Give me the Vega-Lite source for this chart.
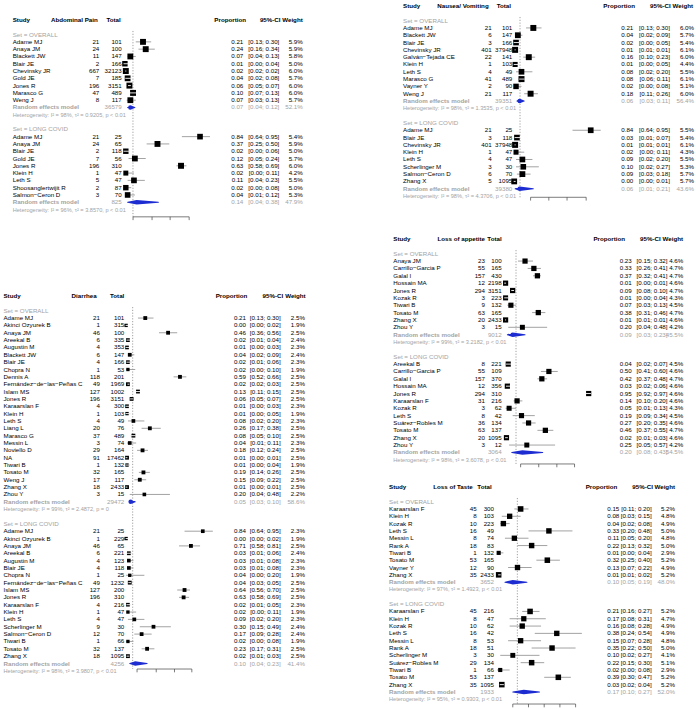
{
"$schema":"https://vega.github.io/schema/vega-lite/v6.json",
"padding":0,
"config":{"view":{"stroke":null},"axis":{"disable":true},"legend":{"disable":true},"text":{"font":"Liberation Sans","fontSize":6.2}},
"datasets":{
"A":[
{"i":0,"t":"h","s":"Study","hd":"Abdominal Pain"},
{"i":2,"t":"g","s":"Set = OVERALL"},
{"i":3,"t":"s","s":"Adame MJ","e":21,"n":101,"p":0.21,"lo":0.13,"hi":0.30,"w":0.059},
{"i":4,"t":"s","s":"Anaya JM","e":24,"n":100,"p":0.24,"lo":0.16,"hi":0.34,"w":0.059},
{"i":5,"t":"s","s":"Blackett JW","e":11,"n":147,"p":0.07,"lo":0.04,"hi":0.13,"w":0.058},
{"i":6,"t":"s","s":"Blair JE","e":2,"n":166,"p":0.01,"lo":0.00,"hi":0.04,"w":0.050},
{"i":7,"t":"s","s":"Chevinsky JR","e":667,"n":32123,"p":0.02,"lo":0.02,"hi":0.02,"w":0.060},
{"i":8,"t":"s","s":"Gold JE","e":7,"n":185,"p":0.04,"lo":0.02,"hi":0.08,"w":0.057},
{"i":9,"t":"s","s":"Jones R","e":196,"n":3151,"p":0.06,"lo":0.05,"hi":0.07,"w":0.060},
{"i":10,"t":"s","s":"Marasco G","e":47,"n":489,"p":0.10,"lo":0.07,"hi":0.13,"w":0.060},
{"i":11,"t":"s","s":"Weng J","e":8,"n":117,"p":0.07,"lo":0.03,"hi":0.13,"w":0.057},
{"i":12,"t":"r","s":"Random effects model","n":36579,"p":0.07,"lo":0.04,"hi":0.12,"w":0.521},
{"i":13,"t":"het","s":"Heterogeneity: I² = 98%, τ² = 0.9205, p < 0.01"},
{"i":15,"t":"g","s":"Set = LONG COVID"},
{"i":16,"t":"s","s":"Adame MJ","e":21,"n":25,"p":0.84,"lo":0.64,"hi":0.95,"w":0.054},
{"i":17,"t":"s","s":"Anaya JM","e":24,"n":65,"p":0.37,"lo":0.25,"hi":0.50,"w":0.059},
{"i":18,"t":"s","s":"Blair JE","e":2,"n":118,"p":0.02,"lo":0.00,"hi":0.06,"w":0.050},
{"i":19,"t":"s","s":"Gold JE","e":7,"n":56,"p":0.12,"lo":0.05,"hi":0.24,"w":0.057},
{"i":20,"t":"s","s":"Jones R","e":196,"n":310,"p":0.63,"lo":0.58,"hi":0.69,"w":0.060},
{"i":21,"t":"s","s":"Klein H","e":1,"n":47,"p":0.02,"lo":0.00,"hi":0.11,"w":0.042},
{"i":22,"t":"s","s":"Leth S","e":5,"n":47,"p":0.11,"lo":0.04,"hi":0.23,"w":0.055},
{"i":23,"t":"s","s":"Shoosanglertwijit R","e":2,"n":87,"p":0.02,"lo":0.00,"hi":0.08,"w":0.050},
{"i":24,"t":"s","s":"Salmon−Ceron D","e":3,"n":70,"p":0.04,"lo":0.01,"hi":0.12,"w":0.053},
{"i":25,"t":"r","s":"Random effects model","n":825,"p":0.14,"lo":0.04,"hi":0.38,"w":0.479},
{"i":26,"t":"het","s":"Heterogeneity: I² = 96%, τ² = 3.8570, p < 0.01"}
],
"D":[
{"i":0,"t":"h","s":"Study","hd":"Diarrhea"},
{"i":2,"t":"g","s":"Set = OVERALL"},
{"i":3,"t":"s","s":"Adame MJ","e":21,"n":101,"p":0.21,"lo":0.13,"hi":0.30,"w":0.025},
{"i":4,"t":"s","s":"Akinci Ozyurek B","e":1,"n":315,"p":0.00,"lo":0.00,"hi":0.02,"w":0.019},
{"i":5,"t":"s","s":"Anaya JM","e":46,"n":100,"p":0.46,"lo":0.36,"hi":0.56,"w":0.025},
{"i":6,"t":"s","s":"Areekal B","e":6,"n":335,"p":0.02,"lo":0.01,"hi":0.04,"w":0.024},
{"i":7,"t":"s","s":"Augustin M","e":4,"n":353,"p":0.01,"lo":0.00,"hi":0.03,"w":0.023},
{"i":8,"t":"s","s":"Blackett JW","e":6,"n":147,"p":0.04,"lo":0.02,"hi":0.09,"w":0.024},
{"i":9,"t":"s","s":"Blair JE","e":4,"n":166,"p":0.02,"lo":0.01,"hi":0.06,"w":0.023},
{"i":10,"t":"s","s":"Chopra N","e":1,"n":53,"p":0.02,"lo":0.00,"hi":0.10,"w":0.019},
{"i":11,"t":"s","s":"Dennis A","e":118,"n":201,"p":0.59,"lo":0.52,"hi":0.66,"w":0.025},
{"i":12,"t":"s","s":"Fernández−de−las−Peñas C","e":49,"n":1969,"p":0.02,"lo":0.02,"hi":0.03,"w":0.025},
{"i":13,"t":"s","s":"Islam MS","e":127,"n":1002,"p":0.13,"lo":0.11,"hi":0.15,"w":0.025},
{"i":14,"t":"s","s":"Jones R","e":196,"n":3151,"p":0.06,"lo":0.05,"hi":0.07,"w":0.025},
{"i":15,"t":"s","s":"Karaarslan F","e":4,"n":300,"p":0.01,"lo":0.00,"hi":0.03,"w":0.023},
{"i":16,"t":"s","s":"Klein H","e":1,"n":103,"p":0.01,"lo":0.00,"hi":0.05,"w":0.019},
{"i":17,"t":"s","s":"Leth S","e":4,"n":49,"p":0.08,"lo":0.02,"hi":0.20,"w":0.023},
{"i":18,"t":"s","s":"Liang L","e":20,"n":76,"p":0.26,"lo":0.17,"hi":0.38,"w":0.025},
{"i":19,"t":"s","s":"Marasco G","e":37,"n":489,"p":0.08,"lo":0.05,"hi":0.10,"w":0.025},
{"i":20,"t":"s","s":"Messin L","e":3,"n":74,"p":0.04,"lo":0.01,"hi":0.11,"w":0.023},
{"i":21,"t":"s","s":"Noviello D","e":29,"n":164,"p":0.18,"lo":0.12,"hi":0.24,"w":0.025},
{"i":22,"t":"s","s":"NA","e":91,"n":17462,"p":0.01,"lo":0.00,"hi":0.01,"w":0.025},
{"i":23,"t":"s","s":"Tiwari B","e":1,"n":132,"p":0.01,"lo":0.00,"hi":0.04,"w":0.019},
{"i":24,"t":"s","s":"Tosato M","e":32,"n":165,"p":0.19,"lo":0.14,"hi":0.26,"w":0.025},
{"i":25,"t":"s","s":"Weng J","e":17,"n":117,"p":0.15,"lo":0.09,"hi":0.22,"w":0.025},
{"i":26,"t":"s","s":"Zhang X","e":18,"n":2433,"p":0.01,"lo":0.00,"hi":0.01,"w":0.025},
{"i":27,"t":"s","s":"Zhou Y","e":3,"n":15,"p":0.20,"lo":0.04,"hi":0.48,"w":0.022},
{"i":28,"t":"r","s":"Random effects model","n":29472,"p":0.05,"lo":0.03,"hi":0.10,"w":0.586},
{"i":29,"t":"het","s":"Heterogeneity: I² = 99%, τ² = 2.4872, p = 0"},
{"i":31,"t":"g","s":"Set = LONG COVID"},
{"i":32,"t":"s","s":"Adame MJ","e":21,"n":25,"p":0.84,"lo":0.64,"hi":0.95,"w":0.023},
{"i":33,"t":"s","s":"Akinci Ozyurek B","e":1,"n":229,"p":0.00,"lo":0.00,"hi":0.02,"w":0.019},
{"i":34,"t":"s","s":"Anaya JM","e":46,"n":65,"p":0.71,"lo":0.58,"hi":0.81,"w":0.025},
{"i":35,"t":"s","s":"Areekal B","e":6,"n":221,"p":0.03,"lo":0.01,"hi":0.06,"w":0.024},
{"i":36,"t":"s","s":"Augustin M","e":4,"n":123,"p":0.03,"lo":0.01,"hi":0.08,"w":0.023},
{"i":37,"t":"s","s":"Blair JE","e":4,"n":118,"p":0.03,"lo":0.01,"hi":0.08,"w":0.023},
{"i":38,"t":"s","s":"Chopra N","e":1,"n":25,"p":0.04,"lo":0.00,"hi":0.20,"w":0.019},
{"i":39,"t":"s","s":"Fernández−de−las−Peñas C","e":49,"n":1232,"p":0.04,"lo":0.03,"hi":0.05,"w":0.025},
{"i":40,"t":"s","s":"Islam MS","e":127,"n":200,"p":0.64,"lo":0.56,"hi":0.70,"w":0.025},
{"i":41,"t":"s","s":"Jones R","e":196,"n":310,"p":0.63,"lo":0.58,"hi":0.69,"w":0.025},
{"i":42,"t":"s","s":"Karaarslan F","e":4,"n":216,"p":0.02,"lo":0.01,"hi":0.05,"w":0.023},
{"i":43,"t":"s","s":"Klein H","e":1,"n":47,"p":0.02,"lo":0.00,"hi":0.11,"w":0.019},
{"i":44,"t":"s","s":"Leth S","e":4,"n":47,"p":0.09,"lo":0.02,"hi":0.20,"w":0.023},
{"i":45,"t":"s","s":"Scherlinger M","e":9,"n":30,"p":0.30,"lo":0.15,"hi":0.49,"w":0.024},
{"i":46,"t":"s","s":"Salmon−Ceron D","e":12,"n":70,"p":0.17,"lo":0.09,"hi":0.28,"w":0.024},
{"i":47,"t":"s","s":"Tiwari B","e":1,"n":66,"p":0.02,"lo":0.00,"hi":0.08,"w":0.019},
{"i":48,"t":"s","s":"Tosato M","e":32,"n":137,"p":0.23,"lo":0.17,"hi":0.31,"w":0.025},
{"i":49,"t":"s","s":"Zhang X","e":18,"n":1095,"p":0.02,"lo":0.01,"hi":0.03,"w":0.025},
{"i":50,"t":"r","s":"Random effects model","n":4256,"p":0.10,"lo":0.04,"hi":0.23,"w":0.414},
{"i":51,"t":"het","s":"Heterogeneity: I² = 98%, τ² = 3.9807, p < 0.01"}
],
"N":[
{"i":0,"t":"h","s":"Study","hd":"Nausea/ Vomiting"},
{"i":2,"t":"g","s":"Set = OVERALL"},
{"i":3,"t":"s","s":"Adame MJ","e":21,"n":101,"p":0.21,"lo":0.13,"hi":0.30,"w":0.060},
{"i":4,"t":"s","s":"Blackett JW","e":6,"n":147,"p":0.04,"lo":0.02,"hi":0.09,"w":0.057},
{"i":5,"t":"s","s":"Blair JE","e":3,"n":166,"p":0.02,"lo":0.00,"hi":0.05,"w":0.054},
{"i":6,"t":"s","s":"Chevinsky JR","e":401,"n":37948,"p":0.01,"lo":0.01,"hi":0.01,"w":0.061},
{"i":7,"t":"s","s":"Galván−Tejada CE","e":22,"n":141,"p":0.16,"lo":0.10,"hi":0.23,"w":0.060},
{"i":8,"t":"s","s":"Klein H","e":1,"n":103,"p":0.01,"lo":0.00,"hi":0.05,"w":0.044},
{"i":9,"t":"s","s":"Leth S","e":4,"n":49,"p":0.08,"lo":0.02,"hi":0.20,"w":0.055},
{"i":10,"t":"s","s":"Marasco G","e":41,"n":489,"p":0.08,"lo":0.06,"hi":0.11,"w":0.061},
{"i":11,"t":"s","s":"Vayner Y","e":2,"n":90,"p":0.02,"lo":0.00,"hi":0.08,"w":0.051},
{"i":12,"t":"s","s":"Weng J","e":21,"n":117,"p":0.18,"lo":0.11,"hi":0.26,"w":0.060},
{"i":13,"t":"r","s":"Random effects model","n":39351,"p":0.06,"lo":0.03,"hi":0.11,"w":0.564},
{"i":14,"t":"het","s":"Heterogeneity: I² = 98%, τ² = 1.3535, p < 0.01"},
{"i":16,"t":"g","s":"Set = LONG COVID"},
{"i":17,"t":"s","s":"Adame MJ","e":21,"n":25,"p":0.84,"lo":0.64,"hi":0.95,"w":0.055},
{"i":18,"t":"s","s":"Blair JE","e":3,"n":118,"p":0.03,"lo":0.01,"hi":0.07,"w":0.054},
{"i":19,"t":"s","s":"Chevinsky JR","e":401,"n":37948,"p":0.01,"lo":0.01,"hi":0.01,"w":0.061},
{"i":20,"t":"s","s":"Klein H","e":1,"n":47,"p":0.02,"lo":0.00,"hi":0.11,"w":0.043},
{"i":21,"t":"s","s":"Leth S","e":4,"n":47,"p":0.09,"lo":0.02,"hi":0.20,"w":0.055},
{"i":22,"t":"s","s":"Scherlinger M","e":3,"n":30,"p":0.10,"lo":0.02,"hi":0.27,"w":0.053},
{"i":23,"t":"s","s":"Salmon−Ceron D","e":6,"n":70,"p":0.09,"lo":0.03,"hi":0.18,"w":0.057},
{"i":24,"t":"s","s":"Zhang X","e":5,"n":1095,"p":0.00,"lo":0.00,"hi":0.01,"w":0.057},
{"i":25,"t":"r","s":"Random effects model","n":39380,"p":0.06,"lo":0.01,"hi":0.21,"w":0.436},
{"i":26,"t":"het","s":"Heterogeneity: I² = 98%, τ² = 4.3706, p < 0.01"}
],
"L":[
{"i":0,"t":"h","s":"Study","hd":"Loss of appetite"},
{"i":2,"t":"g","s":"Set = OVERALL"},
{"i":3,"t":"s","s":"Anaya JM","e":23,"n":100,"p":0.23,"lo":0.15,"hi":0.32,"w":0.046},
{"i":4,"t":"s","s":"Carrillo−Garcia P","e":55,"n":165,"p":0.33,"lo":0.26,"hi":0.41,"w":0.047},
{"i":5,"t":"s","s":"Galal I","e":157,"n":430,"p":0.37,"lo":0.32,"hi":0.41,"w":0.047},
{"i":6,"t":"s","s":"Hossain MA","e":12,"n":2198,"p":0.01,"lo":0.00,"hi":0.01,"w":0.046},
{"i":7,"t":"s","s":"Jones R","e":294,"n":3151,"p":0.09,"lo":0.08,"hi":0.10,"w":0.047},
{"i":8,"t":"s","s":"Kozak R","e":3,"n":223,"p":0.01,"lo":0.00,"hi":0.04,"w":0.043},
{"i":9,"t":"s","s":"Tiwari B","e":9,"n":132,"p":0.07,"lo":0.03,"hi":0.13,"w":0.045},
{"i":10,"t":"s","s":"Tosato M","e":63,"n":165,"p":0.38,"lo":0.31,"hi":0.46,"w":0.047},
{"i":11,"t":"s","s":"Zhang X","e":20,"n":2433,"p":0.01,"lo":0.01,"hi":0.01,"w":0.046},
{"i":12,"t":"s","s":"Zhou Y","e":3,"n":15,"p":0.20,"lo":0.04,"hi":0.48,"w":0.042},
{"i":13,"t":"r","s":"Random effects model","n":9012,"p":0.09,"lo":0.03,"hi":0.23,"w":0.455},
{"i":14,"t":"het","s":"Heterogeneity: I² = 99%, τ² = 3.2182, p < 0.01"},
{"i":16,"t":"g","s":"Set = LONG COVID"},
{"i":17,"t":"s","s":"Areekal B","e":8,"n":221,"p":0.04,"lo":0.02,"hi":0.07,"w":0.045},
{"i":18,"t":"s","s":"Carrillo−Garcia P","e":55,"n":109,"p":0.50,"lo":0.41,"hi":0.60,"w":0.046},
{"i":19,"t":"s","s":"Galal I","e":157,"n":370,"p":0.42,"lo":0.37,"hi":0.48,"w":0.047},
{"i":20,"t":"s","s":"Hossain MA","e":12,"n":356,"p":0.03,"lo":0.02,"hi":0.06,"w":0.046},
{"i":21,"t":"s","s":"Jones R","e":294,"n":310,"p":0.95,"lo":0.92,"hi":0.97,"w":0.046},
{"i":22,"t":"s","s":"Karaarslan F","e":31,"n":216,"p":0.14,"lo":0.10,"hi":0.20,"w":0.046},
{"i":23,"t":"s","s":"Kozak R","e":3,"n":62,"p":0.05,"lo":0.01,"hi":0.13,"w":0.043},
{"i":24,"t":"s","s":"Leth S","e":8,"n":42,"p":0.19,"lo":0.09,"hi":0.34,"w":0.045},
{"i":25,"t":"s","s":"Suárez−Robles M","e":36,"n":134,"p":0.27,"lo":0.20,"hi":0.35,"w":0.046},
{"i":26,"t":"s","s":"Tosato M","e":63,"n":137,"p":0.46,"lo":0.37,"hi":0.55,"w":0.047},
{"i":27,"t":"s","s":"Zhang X","e":20,"n":1095,"p":0.02,"lo":0.01,"hi":0.03,"w":0.046},
{"i":28,"t":"s","s":"Zhou Y","e":3,"n":12,"p":0.25,"lo":0.05,"hi":0.57,"w":0.042},
{"i":29,"t":"r","s":"Random effects model","n":3064,"p":0.20,"lo":0.08,"hi":0.43,"w":0.545},
{"i":30,"t":"het","s":"Heterogeneity: I² = 98%, τ² = 3.6078, p < 0.01"}
],
"T":[
{"i":0,"t":"h","s":"Study","hd":"Loss of Taste"},
{"i":2,"t":"g","s":"Set = OVERALL"},
{"i":3,"t":"s","s":"Karaarslan F","e":45,"n":300,"p":0.15,"lo":0.11,"hi":0.20,"w":0.052},
{"i":4,"t":"s","s":"Klein H","e":8,"n":103,"p":0.08,"lo":0.03,"hi":0.15,"w":0.048},
{"i":5,"t":"s","s":"Kozak R","e":10,"n":223,"p":0.04,"lo":0.02,"hi":0.08,"w":0.049},
{"i":6,"t":"s","s":"Leth S","e":16,"n":49,"p":0.33,"lo":0.20,"hi":0.48,"w":0.050},
{"i":7,"t":"s","s":"Messin L","e":8,"n":74,"p":0.11,"lo":0.05,"hi":0.20,"w":0.048},
{"i":8,"t":"s","s":"Rank A","e":18,"n":83,"p":0.22,"lo":0.13,"hi":0.32,"w":0.050},
{"i":9,"t":"s","s":"Tiwari B","e":1,"n":132,"p":0.01,"lo":0.00,"hi":0.04,"w":0.029},
{"i":10,"t":"s","s":"Tosato M","e":53,"n":165,"p":0.32,"lo":0.25,"hi":0.40,"w":0.052},
{"i":11,"t":"s","s":"Vayner Y","e":12,"n":90,"p":0.13,"lo":0.07,"hi":0.22,"w":0.049},
{"i":12,"t":"s","s":"Zhang X","e":35,"n":2433,"p":0.01,"lo":0.01,"hi":0.02,"w":0.052},
{"i":13,"t":"r","s":"Random effects model","n":3652,"p":0.10,"lo":0.05,"hi":0.19,"w":0.480},
{"i":14,"t":"het","s":"Heterogeneity: I² = 97%, τ² = 1.4923, p < 0.01"},
{"i":16,"t":"g","s":"Set = LONG COVID"},
{"i":17,"t":"s","s":"Karaarslan F","e":45,"n":216,"p":0.21,"lo":0.16,"hi":0.27,"w":0.052},
{"i":18,"t":"s","s":"Klein H","e":8,"n":47,"p":0.17,"lo":0.08,"hi":0.31,"w":0.047},
{"i":19,"t":"s","s":"Kozak R","e":10,"n":62,"p":0.16,"lo":0.08,"hi":0.28,"w":0.049},
{"i":20,"t":"s","s":"Leth S","e":16,"n":42,"p":0.38,"lo":0.24,"hi":0.54,"w":0.049},
{"i":21,"t":"s","s":"Messin L","e":8,"n":53,"p":0.15,"lo":0.07,"hi":0.28,"w":0.048},
{"i":22,"t":"s","s":"Rank A","e":18,"n":51,"p":0.35,"lo":0.22,"hi":0.50,"w":0.050},
{"i":23,"t":"s","s":"Scherlinger M","e":3,"n":30,"p":0.10,"lo":0.02,"hi":0.27,"w":0.041},
{"i":24,"t":"s","s":"Suárez−Robles M","e":29,"n":134,"p":0.22,"lo":0.15,"hi":0.30,"w":0.051},
{"i":25,"t":"s","s":"Tiwari B","e":1,"n":66,"p":0.02,"lo":0.00,"hi":0.08,"w":0.029},
{"i":26,"t":"s","s":"Tosato M","e":53,"n":137,"p":0.39,"lo":0.30,"hi":0.47,"w":0.052},
{"i":27,"t":"s","s":"Zhang X","e":35,"n":1095,"p":0.03,"lo":0.02,"hi":0.04,"w":0.052},
{"i":28,"t":"r","s":"Random effects model","n":1933,"p":0.17,"lo":0.10,"hi":0.27,"w":0.520},
{"i":29,"t":"het","s":"Heterogeneity: I² = 95%, τ² = 0.9303, p < 0.01"}
]
},
"spacing":5,
"hconcat":[
{"spacing":0,"bounds":"flush","vconcat":[
{"width":345,"height":240,"data":{"name":"A"},
"layer":[
{"transform":[{"filter":"datum.t=='s'"}],"mark":{"type":"rule","color":"#8c8c8c","strokeWidth":0.8},"encoding":{"x":{"field":"lo","type":"quantitative","scale":{"domain":[-1.3702,2.442],"nice":false,"zero":false}},"x2":{"field":"hi"},"y":{"field":"i","type":"quantitative","scale":{"domain":[-2.743,30.178],"reverse":true,"nice":false,"zero":false}}}},
{"transform":[{"filter":"datum.t=='h'"}],"mark":{"type":"rule","color":"#a0a0a0","strokeDash":[1.2,1.6],"strokeWidth":1},"encoding":{"x":{"datum":0.099},"y":{"datum":1.5},"y2":{"datum":27}}},
{"transform":[{"filter":"datum.t=='h'"}],"mark":{"type":"rule","color":"#444444","strokeWidth":0.7},"encoding":{"x":{"datum":0.1},"x2":{"datum":0.72},"y":{"datum":27}}},
{"transform":[{"filter":"datum.t=='h'"}],"mark":{"type":"rule","color":"#444444","strokeWidth":0.7},"encoding":{"x":{"datum":0.1},"y":{"datum":27},"y2":{"datum":27.45}}},
{"transform":[{"filter":"datum.t=='h'"}],"mark":{"type":"rule","color":"#444444","strokeWidth":0.7},"encoding":{"x":{"datum":0.31},"y":{"datum":27},"y2":{"datum":27.45}}},
{"transform":[{"filter":"datum.t=='h'"}],"mark":{"type":"rule","color":"#444444","strokeWidth":0.7},"encoding":{"x":{"datum":0.51},"y":{"datum":27},"y2":{"datum":27.45}}},
{"transform":[{"filter":"datum.t=='h'"}],"mark":{"type":"rule","color":"#444444","strokeWidth":0.7},"encoding":{"x":{"datum":0.72},"y":{"datum":27},"y2":{"datum":27.45}}},
{"transform":[{"filter":"datum.t=='s'"}],"mark":{"type":"square","color":"black","opacity":1},"encoding":{"x":{"field":"p","type":"quantitative"},"y":{"field":"i","type":"quantitative"},"size":{"field":"w","type":"quantitative","scale":{"domain":[0,0.06],"range":[0,36]},"legend":null}}},
{"transform":[{"filter":"datum.t=='s' && datum.hi-datum.lo<0.066"}],"mark":{"type":"rule","color":"white","strokeWidth":0.9,"strokeCap":"square"},"encoding":{"x":{"field":"lo","type":"quantitative"},"x2":{"field":"hi"},"y":{"field":"i","type":"quantitative"}}},
{"transform":[{"filter":"datum.t=='r'"},{"fold":["lo","p","hi"],"as":["k","xv"]}],"mark":{"type":"trail","color":"#1c2cd0"},"encoding":{"x":{"field":"xv","type":"quantitative"},"y":{"field":"i","type":"quantitative"},"detail":{"field":"i","type":"nominal"},"order":{"field":"xv","type":"quantitative"},"size":{"condition":{"test":"datum.k=='p'","value":4.5},"value":0}}},
{"transform":[{"filter":"datum.t=='s'||datum.t=='g'||datum.t=='het'"}],"mark":{"type":"text","align":"left","baseline":"middle"},"encoding":{"x":{"datum":-1.2298},"y":{"field":"i","type":"quantitative"},"text":{"field":"s"},"color":{"condition":{"test":"datum.t=='s'","value":"black"},"value":"#a3a3a3"},"size":{"condition":{"test":"datum.t=='het'","value":5.6},"value":6.2}}},
{"transform":[{"filter":"datum.t=='h'||datum.t=='r'"}],"mark":{"type":"text","align":"left","baseline":"middle","fontWeight":"bold"},"encoding":{"x":{"datum":-1.2298},"y":{"field":"i","type":"quantitative"},"text":{"field":"s"},"color":{"condition":{"test":"datum.t=='h'","value":"black"},"value":"#a3a3a3"}}},
{"transform":[{"filter":"datum.t=='s'"}],"mark":{"type":"text","align":"right","baseline":"middle"},"encoding":{"x":{"datum":-0.273},"y":{"field":"i","type":"quantitative"},"text":{"field":"e","type":"nominal"}}},
{"transform":[{"filter":"datum.t=='s'||datum.t=='r'"}],"mark":{"type":"text","align":"right","baseline":"middle"},"encoding":{"x":{"datum":-0.025},"y":{"field":"i","type":"quantitative"},"text":{"field":"n","type":"nominal"},"color":{"condition":{"test":"datum.t=='s'","value":"black"},"value":"#a3a3a3"}}},
{"transform":[{"filter":"datum.t=='s'||datum.t=='r'"}],"mark":{"type":"text","align":"right","baseline":"middle"},"encoding":{"x":{"datum":1.318},"y":{"field":"i","type":"quantitative"},"text":{"field":"p","type":"quantitative","format":".2f"},"color":{"condition":{"test":"datum.t=='s'","value":"black"},"value":"#a3a3a3"}}},
{"transform":[{"filter":"datum.t=='s'||datum.t=='r'"},{"calculate":"'['+format(datum.lo,'.2f')+'; '+format(datum.hi,'.2f')+']'","as":"ci"}],"mark":{"type":"text","align":"right","baseline":"middle"},"encoding":{"x":{"datum":1.716},"y":{"field":"i","type":"quantitative"},"text":{"field":"ci"},"color":{"condition":{"test":"datum.t=='s'","value":"black"},"value":"#a3a3a3"}}},
{"transform":[{"filter":"datum.t=='s'||datum.t=='r'"}],"mark":{"type":"text","align":"right","baseline":"middle"},"encoding":{"x":{"datum":1.975},"y":{"field":"i","type":"quantitative"},"text":{"field":"w","type":"quantitative","format":".1%"},"color":{"condition":{"test":"datum.t=='s'","value":"black"},"value":"#a3a3a3"}}},
{"transform":[{"filter":"datum.t=='h'"}],"mark":{"type":"text","align":"right","baseline":"middle","fontWeight":"bold"},"encoding":{"x":{"datum":-0.29},"y":{"field":"i","type":"quantitative"},"text":{"field":"hd"}}},
{"transform":[{"filter":"datum.t=='h'"}],"mark":{"type":"text","align":"right","baseline":"middle","fontWeight":"bold"},"encoding":{"x":{"datum":-0.036},"y":{"field":"i","type":"quantitative"},"text":{"value":"Total"}}},
{"transform":[{"filter":"datum.t=='h'"}],"mark":{"type":"text","align":"right","baseline":"middle","fontWeight":"bold"},"encoding":{"x":{"datum":1.348},"y":{"field":"i","type":"quantitative"},"text":{"value":"Proportion"}}},
{"transform":[{"filter":"datum.t=='h'"}],"mark":{"type":"text","align":"right","baseline":"middle","fontWeight":"bold"},"encoding":{"x":{"datum":1.73},"y":{"field":"i","type":"quantitative"},"text":{"value":"95%-CI"}}},
{"transform":[{"filter":"datum.t=='h'"}],"mark":{"type":"text","align":"right","baseline":"middle","fontWeight":"bold"},"encoding":{"x":{"datum":1.975},"y":{"field":"i","type":"quantitative"},"text":{"value":"Weight"}}}
]},
{"width":345,"height":469,"data":{"name":"D"},
"layer":[
{"transform":[{"filter":"datum.t=='s'"}],"mark":{"type":"rule","color":"#8c8c8c","strokeWidth":0.8},"encoding":{"x":{"field":"lo","type":"quantitative","scale":{"domain":[-1.3812,2.3976],"nice":false,"zero":false}},"x2":{"field":"hi"},"y":{"field":"i","type":"quantitative","scale":{"domain":[-7.619,56.19],"reverse":true,"nice":false,"zero":false}}}},
{"transform":[{"filter":"datum.t=='h'"}],"mark":{"type":"rule","color":"#a0a0a0","strokeDash":[1.2,1.6],"strokeWidth":1},"encoding":{"x":{"datum":0.072},"y":{"datum":1.5},"y2":{"datum":50.75}}},
{"transform":[{"filter":"datum.t=='h'"}],"mark":{"type":"rule","color":"#444444","strokeWidth":0.7},"encoding":{"x":{"datum":0.12},"x2":{"datum":0.72},"y":{"datum":50.75}}},
{"transform":[{"filter":"datum.t=='h'"}],"mark":{"type":"rule","color":"#444444","strokeWidth":0.7},"encoding":{"x":{"datum":0.12},"y":{"datum":50.75},"y2":{"datum":51.2}}},
{"transform":[{"filter":"datum.t=='h'"}],"mark":{"type":"rule","color":"#444444","strokeWidth":0.7},"encoding":{"x":{"datum":0.33},"y":{"datum":50.75},"y2":{"datum":51.2}}},
{"transform":[{"filter":"datum.t=='h'"}],"mark":{"type":"rule","color":"#444444","strokeWidth":0.7},"encoding":{"x":{"datum":0.53},"y":{"datum":50.75},"y2":{"datum":51.2}}},
{"transform":[{"filter":"datum.t=='h'"}],"mark":{"type":"rule","color":"#444444","strokeWidth":0.7},"encoding":{"x":{"datum":0.72},"y":{"datum":50.75},"y2":{"datum":51.2}}},
{"transform":[{"filter":"datum.t=='s'"}],"mark":{"type":"square","color":"black","opacity":1},"encoding":{"x":{"field":"p","type":"quantitative"},"y":{"field":"i","type":"quantitative"},"size":{"field":"w","type":"quantitative","scale":{"domain":[0,0.025],"range":[0,36]},"legend":null}}},
{"transform":[{"filter":"datum.t=='s' && datum.hi-datum.lo<0.065"}],"mark":{"type":"rule","color":"white","strokeWidth":0.9,"strokeCap":"square"},"encoding":{"x":{"field":"lo","type":"quantitative"},"x2":{"field":"hi"},"y":{"field":"i","type":"quantitative"}}},
{"transform":[{"filter":"datum.t=='r'"},{"fold":["lo","p","hi"],"as":["k","xv"]}],"mark":{"type":"trail","color":"#1c2cd0"},"encoding":{"x":{"field":"xv","type":"quantitative"},"y":{"field":"i","type":"quantitative"},"detail":{"field":"i","type":"nominal"},"order":{"field":"xv","type":"quantitative"},"size":{"condition":{"test":"datum.k=='p'","value":4.5},"value":0}}},
{"transform":[{"filter":"datum.t=='s'||datum.t=='g'||datum.t=='het'"}],"mark":{"type":"text","align":"left","baseline":"middle"},"encoding":{"x":{"datum":-1.343},"y":{"field":"i","type":"quantitative"},"text":{"field":"s"},"color":{"condition":{"test":"datum.t=='s'","value":"black"},"value":"#a3a3a3"},"size":{"condition":{"test":"datum.t=='het'","value":5.6},"value":6.2}}},
{"transform":[{"filter":"datum.t=='h'||datum.t=='r'"}],"mark":{"type":"text","align":"left","baseline":"middle","fontWeight":"bold"},"encoding":{"x":{"datum":-1.343},"y":{"field":"i","type":"quantitative"},"text":{"field":"s"},"color":{"condition":{"test":"datum.t=='h'","value":"black"},"value":"#a3a3a3"}}},
{"transform":[{"filter":"datum.t=='s'"}],"mark":{"type":"text","align":"right","baseline":"middle"},"encoding":{"x":{"datum":-0.286},"y":{"field":"i","type":"quantitative"},"text":{"field":"e","type":"nominal"}}},
{"transform":[{"filter":"datum.t=='s'||datum.t=='r'"}],"mark":{"type":"text","align":"right","baseline":"middle"},"encoding":{"x":{"datum":-0.0197},"y":{"field":"i","type":"quantitative"},"text":{"field":"n","type":"nominal"},"color":{"condition":{"test":"datum.t=='s'","value":"black"},"value":"#a3a3a3"}}},
{"transform":[{"filter":"datum.t=='s'||datum.t=='r'"}],"mark":{"type":"text","align":"right","baseline":"middle"},"encoding":{"x":{"datum":1.313},"y":{"field":"i","type":"quantitative"},"text":{"field":"p","type":"quantitative","format":".2f"},"color":{"condition":{"test":"datum.t=='s'","value":"black"},"value":"#a3a3a3"}}},
{"transform":[{"filter":"datum.t=='s'||datum.t=='r'"},{"calculate":"'['+format(datum.lo,'.2f')+'; '+format(datum.hi,'.2f')+']'","as":"ci"}],"mark":{"type":"text","align":"right","baseline":"middle"},"encoding":{"x":{"datum":1.693},"y":{"field":"i","type":"quantitative"},"text":{"field":"ci"},"color":{"condition":{"test":"datum.t=='s'","value":"black"},"value":"#a3a3a3"}}},
{"transform":[{"filter":"datum.t=='s'||datum.t=='r'"}],"mark":{"type":"text","align":"right","baseline":"middle"},"encoding":{"x":{"datum":1.959},"y":{"field":"i","type":"quantitative"},"text":{"field":"w","type":"quantitative","format":".1%"},"color":{"condition":{"test":"datum.t=='s'","value":"black"},"value":"#a3a3a3"}}},
{"transform":[{"filter":"datum.t=='h'"}],"mark":{"type":"text","align":"right","baseline":"middle","fontWeight":"bold"},"encoding":{"x":{"datum":-0.322},"y":{"field":"i","type":"quantitative"},"text":{"field":"hd"}}},
{"transform":[{"filter":"datum.t=='h'"}],"mark":{"type":"text","align":"right","baseline":"middle","fontWeight":"bold"},"encoding":{"x":{"datum":-0.0197},"y":{"field":"i","type":"quantitative"},"text":{"value":"Total"}}},
{"transform":[{"filter":"datum.t=='h'"}],"mark":{"type":"text","align":"right","baseline":"middle","fontWeight":"bold"},"encoding":{"x":{"datum":1.3275},"y":{"field":"i","type":"quantitative"},"text":{"value":"Proportion"}}},
{"transform":[{"filter":"datum.t=='h'"}],"mark":{"type":"text","align":"right","baseline":"middle","fontWeight":"bold"},"encoding":{"x":{"datum":1.72},"y":{"field":"i","type":"quantitative"},"text":{"value":"95%-CI"}}},
{"transform":[{"filter":"datum.t=='h'"}],"mark":{"type":"text","align":"right","baseline":"middle","fontWeight":"bold"},"encoding":{"x":{"datum":1.967},"y":{"field":"i","type":"quantitative"},"text":{"value":"Weight"}}}
]}
]},
{"spacing":0,"bounds":"flush","vconcat":[
{"width":346,"height":232,"data":{"name":"N"},
"layer":[
{"transform":[{"filter":"datum.t=='s'"}],"mark":{"type":"rule","color":"#8c8c8c","strokeWidth":0.8},"encoding":{"x":{"field":"lo","type":"quantitative","scale":{"domain":[-1.8024,1.9956],"nice":false,"zero":false}},"x2":{"field":"hi"},"y":{"field":"i","type":"quantitative","scale":{"domain":[-0.821,30.92],"reverse":true,"nice":false,"zero":false}}}},
{"transform":[{"filter":"datum.t=='h'"}],"mark":{"type":"rule","color":"#a0a0a0","strokeDash":[1.2,1.6],"strokeWidth":1},"encoding":{"x":{"datum":0.064},"y":{"datum":1.5},"y2":{"datum":26.17}}},
{"transform":[{"filter":"datum.t=='h'"}],"mark":{"type":"rule","color":"#444444","strokeWidth":0.7},"encoding":{"x":{"datum":0.18},"x2":{"datum":0.79},"y":{"datum":26.17}}},
{"transform":[{"filter":"datum.t=='h'"}],"mark":{"type":"rule","color":"#444444","strokeWidth":0.7},"encoding":{"x":{"datum":0.18},"y":{"datum":26.17},"y2":{"datum":26.62}}},
{"transform":[{"filter":"datum.t=='h'"}],"mark":{"type":"rule","color":"#444444","strokeWidth":0.7},"encoding":{"x":{"datum":0.38},"y":{"datum":26.17},"y2":{"datum":26.62}}},
{"transform":[{"filter":"datum.t=='h'"}],"mark":{"type":"rule","color":"#444444","strokeWidth":0.7},"encoding":{"x":{"datum":0.58},"y":{"datum":26.17},"y2":{"datum":26.62}}},
{"transform":[{"filter":"datum.t=='h'"}],"mark":{"type":"rule","color":"#444444","strokeWidth":0.7},"encoding":{"x":{"datum":0.79},"y":{"datum":26.17},"y2":{"datum":26.62}}},
{"transform":[{"filter":"datum.t=='s'"}],"mark":{"type":"square","color":"black","opacity":1},"encoding":{"x":{"field":"p","type":"quantitative"},"y":{"field":"i","type":"quantitative"},"size":{"field":"w","type":"quantitative","scale":{"domain":[0,0.061],"range":[0,36]},"legend":null}}},
{"transform":[{"filter":"datum.t=='s' && datum.hi-datum.lo<0.065"}],"mark":{"type":"rule","color":"white","strokeWidth":0.9,"strokeCap":"square"},"encoding":{"x":{"field":"lo","type":"quantitative"},"x2":{"field":"hi"},"y":{"field":"i","type":"quantitative"}}},
{"transform":[{"filter":"datum.t=='r'"},{"fold":["lo","p","hi"],"as":["k","xv"]}],"mark":{"type":"trail","color":"#1c2cd0"},"encoding":{"x":{"field":"xv","type":"quantitative"},"y":{"field":"i","type":"quantitative"},"detail":{"field":"i","type":"nominal"},"order":{"field":"xv","type":"quantitative"},"size":{"condition":{"test":"datum.k=='p'","value":4.5},"value":0}}},
{"transform":[{"filter":"datum.t=='s'||datum.t=='g'||datum.t=='het'"}],"mark":{"type":"text","align":"left","baseline":"middle"},"encoding":{"x":{"datum":-1.2206},"y":{"field":"i","type":"quantitative"},"text":{"field":"s"},"color":{"condition":{"test":"datum.t=='s'","value":"black"},"value":"#a3a3a3"},"size":{"condition":{"test":"datum.t=='het'","value":5.6},"value":6.2}}},
{"transform":[{"filter":"datum.t=='h'||datum.t=='r'"}],"mark":{"type":"text","align":"left","baseline":"middle","fontWeight":"bold"},"encoding":{"x":{"datum":-1.2206},"y":{"field":"i","type":"quantitative"},"text":{"field":"s"},"color":{"condition":{"test":"datum.t=='h'","value":"black"},"value":"#a3a3a3"}}},
{"transform":[{"filter":"datum.t=='s'"}],"mark":{"type":"text","align":"right","baseline":"middle"},"encoding":{"x":{"datum":-0.247},"y":{"field":"i","type":"quantitative"},"text":{"field":"e","type":"nominal"}}},
{"transform":[{"filter":"datum.t=='s'||datum.t=='r'"}],"mark":{"type":"text","align":"right","baseline":"middle"},"encoding":{"x":{"datum":-0.021},"y":{"field":"i","type":"quantitative"},"text":{"field":"n","type":"nominal"},"color":{"condition":{"test":"datum.t=='s'","value":"black"},"value":"#a3a3a3"}}},
{"transform":[{"filter":"datum.t=='s'||datum.t=='r'"}],"mark":{"type":"text","align":"right","baseline":"middle"},"encoding":{"x":{"datum":1.307},"y":{"field":"i","type":"quantitative"},"text":{"field":"p","type":"quantitative","format":".2f"},"color":{"condition":{"test":"datum.t=='s'","value":"black"},"value":"#a3a3a3"}}},
{"transform":[{"filter":"datum.t=='s'||datum.t=='r'"},{"calculate":"'['+format(datum.lo,'.2f')+'; '+format(datum.hi,'.2f')+']'","as":"ci"}],"mark":{"type":"text","align":"right","baseline":"middle"},"encoding":{"x":{"datum":1.71},"y":{"field":"i","type":"quantitative"},"text":{"field":"ci"},"color":{"condition":{"test":"datum.t=='s'","value":"black"},"value":"#a3a3a3"}}},
{"transform":[{"filter":"datum.t=='s'||datum.t=='r'"}],"mark":{"type":"text","align":"right","baseline":"middle"},"encoding":{"x":{"datum":1.974},"y":{"field":"i","type":"quantitative"},"text":{"field":"w","type":"quantitative","format":".1%"},"color":{"condition":{"test":"datum.t=='s'","value":"black"},"value":"#a3a3a3"}}},
{"transform":[{"filter":"datum.t=='h'"}],"mark":{"type":"text","align":"right","baseline":"middle","fontWeight":"bold"},"encoding":{"x":{"datum":-0.28},"y":{"field":"i","type":"quantitative"},"text":{"field":"hd"}}},
{"transform":[{"filter":"datum.t=='h'"}],"mark":{"type":"text","align":"right","baseline":"middle","fontWeight":"bold"},"encoding":{"x":{"datum":-0.035},"y":{"field":"i","type":"quantitative"},"text":{"value":"Total"}}},
{"transform":[{"filter":"datum.t=='h'"}],"mark":{"type":"text","align":"right","baseline":"middle","fontWeight":"bold"},"encoding":{"x":{"datum":1.326},"y":{"field":"i","type":"quantitative"},"text":{"value":"Proportion"}}},
{"transform":[{"filter":"datum.t=='h'"}],"mark":{"type":"text","align":"right","baseline":"middle","fontWeight":"bold"},"encoding":{"x":{"datum":1.718},"y":{"field":"i","type":"quantitative"},"text":{"value":"95%-CI"}}},
{"transform":[{"filter":"datum.t=='h'"}],"mark":{"type":"text","align":"right","baseline":"middle","fontWeight":"bold"},"encoding":{"x":{"datum":1.963},"y":{"field":"i","type":"quantitative"},"text":{"value":"Weight"}}}
]},
{"width":346,"height":243,"data":{"name":"L"},
"layer":[
{"transform":[{"filter":"datum.t=='s'"}],"mark":{"type":"rule","color":"#8c8c8c","strokeWidth":0.8},"encoding":{"x":{"field":"lo","type":"quantitative","scale":{"domain":[-1.75,2.164],"nice":false,"zero":false}},"x2":{"field":"hi"},"y":{"field":"i","type":"quantitative","scale":{"domain":[-0.951,32.07],"reverse":true,"nice":false,"zero":false}}}},
{"transform":[{"filter":"datum.t=='h'"}],"mark":{"type":"rule","color":"#a0a0a0","strokeDash":[1.2,1.6],"strokeWidth":1},"encoding":{"x":{"datum":0.128},"y":{"datum":1.5},"y2":{"datum":30.57}}},
{"transform":[{"filter":"datum.t=='h'"}],"mark":{"type":"rule","color":"#444444","strokeWidth":0.7},"encoding":{"x":{"datum":0.18},"x2":{"datum":0.79},"y":{"datum":30.57}}},
{"transform":[{"filter":"datum.t=='h'"}],"mark":{"type":"rule","color":"#444444","strokeWidth":0.7},"encoding":{"x":{"datum":0.18},"y":{"datum":30.57},"y2":{"datum":31.02}}},
{"transform":[{"filter":"datum.t=='h'"}],"mark":{"type":"rule","color":"#444444","strokeWidth":0.7},"encoding":{"x":{"datum":0.385},"y":{"datum":30.57},"y2":{"datum":31.02}}},
{"transform":[{"filter":"datum.t=='h'"}],"mark":{"type":"rule","color":"#444444","strokeWidth":0.7},"encoding":{"x":{"datum":0.59},"y":{"datum":30.57},"y2":{"datum":31.02}}},
{"transform":[{"filter":"datum.t=='h'"}],"mark":{"type":"rule","color":"#444444","strokeWidth":0.7},"encoding":{"x":{"datum":0.79},"y":{"datum":30.57},"y2":{"datum":31.02}}},
{"transform":[{"filter":"datum.t=='s'"}],"mark":{"type":"square","color":"black","opacity":1},"encoding":{"x":{"field":"p","type":"quantitative"},"y":{"field":"i","type":"quantitative"},"size":{"field":"w","type":"quantitative","scale":{"domain":[0,0.047],"range":[0,36]},"legend":null}}},
{"transform":[{"filter":"datum.t=='s' && datum.hi-datum.lo<0.068"}],"mark":{"type":"rule","color":"white","strokeWidth":0.9,"strokeCap":"square"},"encoding":{"x":{"field":"lo","type":"quantitative"},"x2":{"field":"hi"},"y":{"field":"i","type":"quantitative"}}},
{"transform":[{"filter":"datum.t=='r'"},{"fold":["lo","p","hi"],"as":["k","xv"]}],"mark":{"type":"trail","color":"#1c2cd0"},"encoding":{"x":{"field":"xv","type":"quantitative"},"y":{"field":"i","type":"quantitative"},"detail":{"field":"i","type":"nominal"},"order":{"field":"xv","type":"quantitative"},"size":{"condition":{"test":"datum.k=='p'","value":4.5},"value":0}}},
{"transform":[{"filter":"datum.t=='s'||datum.t=='g'||datum.t=='het'"}],"mark":{"type":"text","align":"left","baseline":"middle"},"encoding":{"x":{"datum":-1.26},"y":{"field":"i","type":"quantitative"},"text":{"field":"s"},"color":{"condition":{"test":"datum.t=='s'","value":"black"},"value":"#a3a3a3"},"size":{"condition":{"test":"datum.t=='het'","value":5.6},"value":6.2}}},
{"transform":[{"filter":"datum.t=='h'||datum.t=='r'"}],"mark":{"type":"text","align":"left","baseline":"middle","fontWeight":"bold"},"encoding":{"x":{"datum":-1.26},"y":{"field":"i","type":"quantitative"},"text":{"field":"s"},"color":{"condition":{"test":"datum.t=='h'","value":"black"},"value":"#a3a3a3"}}},
{"transform":[{"filter":"datum.t=='s'"}],"mark":{"type":"text","align":"right","baseline":"middle"},"encoding":{"x":{"datum":-0.223},"y":{"field":"i","type":"quantitative"},"text":{"field":"e","type":"nominal"}}},
{"transform":[{"filter":"datum.t=='s'||datum.t=='r'"}],"mark":{"type":"text","align":"right","baseline":"middle"},"encoding":{"x":{"datum":-0.034},"y":{"field":"i","type":"quantitative"},"text":{"field":"n","type":"nominal"},"color":{"condition":{"test":"datum.t=='s'","value":"black"},"value":"#a3a3a3"}}},
{"transform":[{"filter":"datum.t=='s'||datum.t=='r'"}],"mark":{"type":"text","align":"right","baseline":"middle"},"encoding":{"x":{"datum":1.437},"y":{"field":"i","type":"quantitative"},"text":{"field":"p","type":"quantitative","format":".2f"},"color":{"condition":{"test":"datum.t=='s'","value":"black"},"value":"#a3a3a3"}}},
{"transform":[{"filter":"datum.t=='s'||datum.t=='r'"},{"calculate":"'['+format(datum.lo,'.2f')+'; '+format(datum.hi,'.2f')+']'","as":"ci"}],"mark":{"type":"text","align":"right","baseline":"middle"},"encoding":{"x":{"datum":1.842},"y":{"field":"i","type":"quantitative"},"text":{"field":"ci"},"color":{"condition":{"test":"datum.t=='s'","value":"black"},"value":"#a3a3a3"}}},
{"transform":[{"filter":"datum.t=='s'||datum.t=='r'"}],"mark":{"type":"text","align":"right","baseline":"middle"},"encoding":{"x":{"datum":2.02},"y":{"field":"i","type":"quantitative"},"text":{"field":"w","type":"quantitative","format":".1%"},"color":{"condition":{"test":"datum.t=='s'","value":"black"},"value":"#a3a3a3"}}},
{"transform":[{"filter":"datum.t=='h'"}],"mark":{"type":"text","align":"right","baseline":"middle","fontWeight":"bold"},"encoding":{"x":{"datum":-0.223},"y":{"field":"i","type":"quantitative"},"text":{"field":"hd"}}},
{"transform":[{"filter":"datum.t=='h'"}],"mark":{"type":"text","align":"right","baseline":"middle","fontWeight":"bold"},"encoding":{"x":{"datum":-0.034},"y":{"field":"i","type":"quantitative"},"text":{"value":"Total"}}},
{"transform":[{"filter":"datum.t=='h'"}],"mark":{"type":"text","align":"right","baseline":"middle","fontWeight":"bold"},"encoding":{"x":{"datum":1.361},"y":{"field":"i","type":"quantitative"},"text":{"value":"Proportion"}}},
{"transform":[{"filter":"datum.t=='h'"}],"mark":{"type":"text","align":"right","baseline":"middle","fontWeight":"bold"},"encoding":{"x":{"datum":1.764},"y":{"field":"i","type":"quantitative"},"text":{"value":"95%-CI"}}},
{"transform":[{"filter":"datum.t=='h'"}],"mark":{"type":"text","align":"right","baseline":"middle","fontWeight":"bold"},"encoding":{"x":{"datum":2.017},"y":{"field":"i","type":"quantitative"},"text":{"value":"Weight"}}}
]},
{"width":346,"height":234,"data":{"name":"T"},
"layer":[
{"transform":[{"filter":"datum.t=='s'"}],"mark":{"type":"rule","color":"#8c8c8c","strokeWidth":0.8},"encoding":{"x":{"field":"lo","type":"quantitative","scale":{"domain":[-0.9369,1.2669],"nice":false,"zero":false}},"x2":{"field":"hi"},"y":{"field":"i","type":"quantitative","scale":{"domain":[-1.639,30.33],"reverse":true,"nice":false,"zero":false}}}},
{"transform":[{"filter":"datum.t=='h'"}],"mark":{"type":"rule","color":"#a0a0a0","strokeDash":[1.2,1.6],"strokeWidth":1},"encoding":{"x":{"datum":0.129},"y":{"datum":1.5},"y2":{"datum":29.65}}},
{"transform":[{"filter":"datum.t=='h'"}],"mark":{"type":"rule","color":"#444444","strokeWidth":0.7},"encoding":{"x":{"datum":0.1},"x2":{"datum":0.5},"y":{"datum":29.65}}},
{"transform":[{"filter":"datum.t=='h'"}],"mark":{"type":"rule","color":"#444444","strokeWidth":0.7},"encoding":{"x":{"datum":0.1},"y":{"datum":29.65},"y2":{"datum":30.1}}},
{"transform":[{"filter":"datum.t=='h'"}],"mark":{"type":"rule","color":"#444444","strokeWidth":0.7},"encoding":{"x":{"datum":0.2},"y":{"datum":29.65},"y2":{"datum":30.1}}},
{"transform":[{"filter":"datum.t=='h'"}],"mark":{"type":"rule","color":"#444444","strokeWidth":0.7},"encoding":{"x":{"datum":0.3},"y":{"datum":29.65},"y2":{"datum":30.1}}},
{"transform":[{"filter":"datum.t=='h'"}],"mark":{"type":"rule","color":"#444444","strokeWidth":0.7},"encoding":{"x":{"datum":0.4},"y":{"datum":29.65},"y2":{"datum":30.1}}},
{"transform":[{"filter":"datum.t=='h'"}],"mark":{"type":"rule","color":"#444444","strokeWidth":0.7},"encoding":{"x":{"datum":0.5},"y":{"datum":29.65},"y2":{"datum":30.1}}},
{"transform":[{"filter":"datum.t=='s'"}],"mark":{"type":"square","color":"black","opacity":1},"encoding":{"x":{"field":"p","type":"quantitative"},"y":{"field":"i","type":"quantitative"},"size":{"field":"w","type":"quantitative","scale":{"domain":[0,0.052],"range":[0,36]},"legend":null}}},
{"transform":[{"filter":"datum.t=='s' && datum.hi-datum.lo<0.038"}],"mark":{"type":"rule","color":"white","strokeWidth":0.9,"strokeCap":"square"},"encoding":{"x":{"field":"lo","type":"quantitative"},"x2":{"field":"hi"},"y":{"field":"i","type":"quantitative"}}},
{"transform":[{"filter":"datum.t=='r'"},{"fold":["lo","p","hi"],"as":["k","xv"]}],"mark":{"type":"trail","color":"#1c2cd0"},"encoding":{"x":{"field":"xv","type":"quantitative"},"y":{"field":"i","type":"quantitative"},"detail":{"field":"i","type":"nominal"},"order":{"field":"xv","type":"quantitative"},"size":{"condition":{"test":"datum.k=='p'","value":4.5},"value":0}}},
{"transform":[{"filter":"datum.t=='s'||datum.t=='g'||datum.t=='het'"}],"mark":{"type":"text","align":"left","baseline":"middle"},"encoding":{"x":{"datum":-0.6885},"y":{"field":"i","type":"quantitative"},"text":{"field":"s"},"color":{"condition":{"test":"datum.t=='s'","value":"black"},"value":"#a3a3a3"},"size":{"condition":{"test":"datum.t=='het'","value":5.6},"value":6.2}}},
{"transform":[{"filter":"datum.t=='h'||datum.t=='r'"}],"mark":{"type":"text","align":"left","baseline":"middle","fontWeight":"bold"},"encoding":{"x":{"datum":-0.6885},"y":{"field":"i","type":"quantitative"},"text":{"field":"s"},"color":{"condition":{"test":"datum.t=='h'","value":"black"},"value":"#a3a3a3"}}},
{"transform":[{"filter":"datum.t=='s'"}],"mark":{"type":"text","align":"right","baseline":"middle"},"encoding":{"x":{"datum":-0.13},"y":{"field":"i","type":"quantitative"},"text":{"field":"e","type":"nominal"}}},
{"transform":[{"filter":"datum.t=='s'||datum.t=='r'"}],"mark":{"type":"text","align":"right","baseline":"middle"},"encoding":{"x":{"datum":-0.0197},"y":{"field":"i","type":"quantitative"},"text":{"field":"n","type":"nominal"},"color":{"condition":{"test":"datum.t=='s'","value":"black"},"value":"#a3a3a3"}}},
{"transform":[{"filter":"datum.t=='s'||datum.t=='r'"}],"mark":{"type":"text","align":"right","baseline":"middle"},"encoding":{"x":{"datum":0.7783},"y":{"field":"i","type":"quantitative"},"text":{"field":"p","type":"quantitative","format":".2f"},"color":{"condition":{"test":"datum.t=='s'","value":"black"},"value":"#a3a3a3"}}},
{"transform":[{"filter":"datum.t=='s'||datum.t=='r'"},{"calculate":"'['+format(datum.lo,'.2f')+'; '+format(datum.hi,'.2f')+']'","as":"ci"}],"mark":{"type":"text","align":"right","baseline":"middle"},"encoding":{"x":{"datum":0.9847},"y":{"field":"i","type":"quantitative"},"text":{"field":"ci"},"color":{"condition":{"test":"datum.t=='s'","value":"black"},"value":"#a3a3a3"}}},
{"transform":[{"filter":"datum.t=='s'||datum.t=='r'"}],"mark":{"type":"text","align":"right","baseline":"middle"},"encoding":{"x":{"datum":1.1331},"y":{"field":"i","type":"quantitative"},"text":{"field":"w","type":"quantitative","format":".1%"},"color":{"condition":{"test":"datum.t=='s'","value":"black"},"value":"#a3a3a3"}}},
{"transform":[{"filter":"datum.t=='h'"}],"mark":{"type":"text","align":"right","baseline":"middle","fontWeight":"bold"},"encoding":{"x":{"datum":-0.1554},"y":{"field":"i","type":"quantitative"},"text":{"field":"hd"}}},
{"transform":[{"filter":"datum.t=='h'"}],"mark":{"type":"text","align":"right","baseline":"middle","fontWeight":"bold"},"encoding":{"x":{"datum":-0.0344},"y":{"field":"i","type":"quantitative"},"text":{"value":"Total"}}},
{"transform":[{"filter":"datum.t=='h'"}],"mark":{"type":"text","align":"right","baseline":"middle","fontWeight":"bold"},"encoding":{"x":{"datum":0.7656},"y":{"field":"i","type":"quantitative"},"text":{"value":"Proportion"}}},
{"transform":[{"filter":"datum.t=='h'"}],"mark":{"type":"text","align":"right","baseline":"middle","fontWeight":"bold"},"encoding":{"x":{"datum":0.993},"y":{"field":"i","type":"quantitative"},"text":{"value":"95%-CI"}}},
{"transform":[{"filter":"datum.t=='h'"}],"mark":{"type":"text","align":"right","baseline":"middle","fontWeight":"bold"},"encoding":{"x":{"datum":1.1331},"y":{"field":"i","type":"quantitative"},"text":{"value":"Weight"}}}
]}
]}
]
}
